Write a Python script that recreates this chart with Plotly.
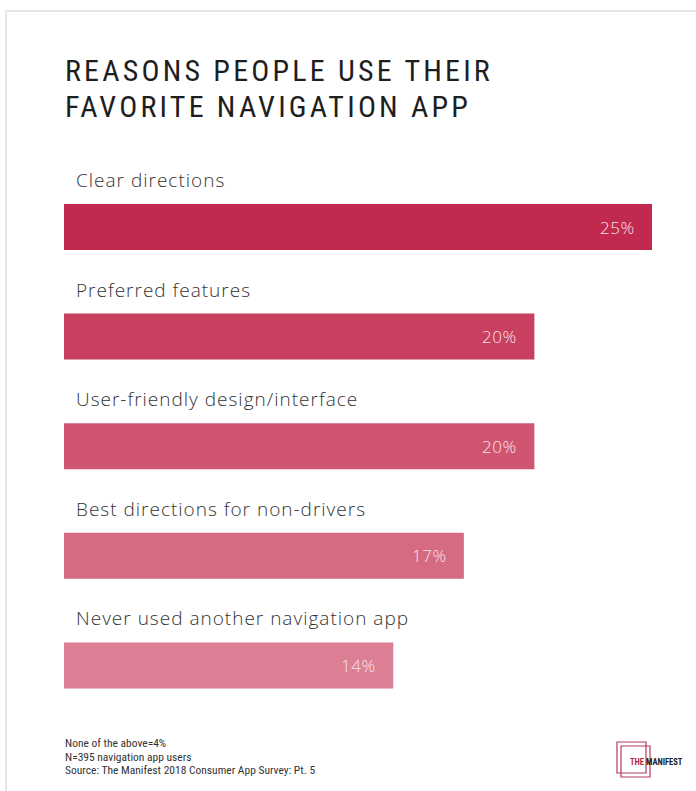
import plotly.graph_objects as go

# Survey results
categories = [
    "Clear directions",
    "Preferred features",
    "User-friendly design/interface",
    "Best directions for non-drivers",
    "Never used another navigation app",
]
values = [25, 20, 20, 17, 14]
value_labels = ["25%", "20%", "20%", "17%", "14%"]
bar_colors = ["#C2294E", "#C83F5F", "#CF5571", "#D66A83", "#DC7F94"]

title_lines = ["REASONS PEOPLE USE THEIR", "FAVORITE NAVIGATION APP"]
footnotes = [
    "None of the above=4%",
    "N=395 navigation app users",
    "Source: The Manifest 2018 Consumer App Survey: Pt. 5",
]

W, H = 696, 791


def px_x(p):
    return p / W


def px_y(p):
    return 1 - p / H


fig = go.Figure()
fig.add_trace(
    go.Bar(
        x=values,
        y=categories,
        orientation="h",
        marker=dict(color=bar_colors, line=dict(width=0)),
        hoverinfo="skip",
    )
)

annotations = []

# category names above each bar
for cat in categories:
    annotations.append(
        dict(
            x=0, y=cat, xref="x", yref="y",
            text="<span style='letter-spacing:1px'>" + cat + "</span>",
            showarrow=False, xanchor="left", yanchor="middle", xshift=10, yshift=47,
            font=dict(family="Open Sans, Lato, sans-serif", size=19, color="#333333", weight=300),
        )
    )

# value labels inside the bar ends
for cat, v, lab in zip(categories, values, value_labels):
    annotations.append(
        dict(
            x=v, y=cat, xref="x", yref="y",
            text="<span style='letter-spacing:0.5px'>" + lab + "</span>",
            showarrow=False, xanchor="right", yanchor="middle", xshift=-15, yshift=0,
            font=dict(family="Open Sans, Lato, sans-serif", size=17, color="#F8E4E9", weight=300),
        )
    )

# title
for i, line in enumerate(title_lines):
    annotations.append(
        dict(
            x=px_x(63), y=px_y(71 + 35 * i), xref="paper", yref="paper",
            text="<span style='letter-spacing:3.2px'>" + line + "</span>",
            showarrow=False, xanchor="left", yanchor="middle",
            font=dict(family="Roboto Condensed, sans-serif", size=30, color="#1E1E1E", weight=400),
        )
    )

# footnotes
for i, line in enumerate(footnotes):
    annotations.append(
        dict(
            x=px_x(63), y=px_y(743 + 13.5 * i), xref="paper", yref="paper",
            text=line, showarrow=False, xanchor="left", yanchor="middle",
            font=dict(family="Roboto Condensed, sans-serif", size=11.5, color="#333333", weight=400),
        )
    )

# logo wordmark
annotations.append(
    dict(
        x=px_x(628), y=px_y(762), xref="paper", yref="paper",
        text="<b><span style='color:#B0284E'>THE</span> MANIFEST</b>",
        showarrow=False, xanchor="left", yanchor="middle",
        font=dict(family="Roboto Condensed, sans-serif", size=8.5, color="#222222"),
    )
)

shapes = [
    # outer frame
    dict(type="rect", xref="paper", yref="paper",
         x0=px_x(6), x1=px_x(720), y0=px_y(11), y1=px_y(820),
         line=dict(color="#E6E6E6", width=2), layer="below"),
    # logo squares
    dict(type="rect", xref="paper", yref="paper",
         x0=px_x(617), x1=px_x(646), y0=px_y(742), y1=px_y(773),
         line=dict(color="#B33A5C", width=1.2)),
    dict(type="rect", xref="paper", yref="paper",
         x0=px_x(621), x1=px_x(650), y0=px_y(746), y1=px_y(777),
         line=dict(color="#B33A5C", width=1.2)),
]

fig.update_layout(
    width=W, height=H,
    margin=dict(l=0, r=0, t=0, b=0),
    paper_bgcolor="white", plot_bgcolor="white",
    showlegend=False,
    bargap=0.58,
    xaxis=dict(domain=[px_x(64), px_x(652)], range=[0, 25], visible=False, fixedrange=True),
    yaxis=dict(domain=[px_y(720.2), px_y(172.2)], range=[4.5, -0.5], visible=False,
               categoryorder="array", categoryarray=categories, fixedrange=True),
    annotations=annotations,
    shapes=shapes,
)

fig.write_html("out.html")
